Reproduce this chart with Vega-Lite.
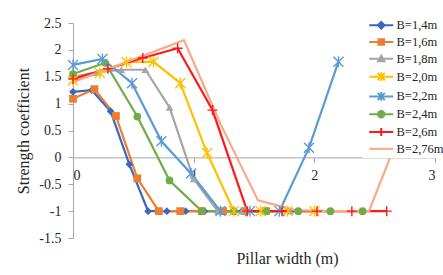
{
  "$schema": "https://vega.github.io/schema/vega-lite/v6.json",
  "autosize": "none",
  "width": 362,
  "height": 215,
  "padding": {"left": 73, "top": 23, "right": 8, "bottom": 37},
  "background": "white",
  "config": {
    "view": {"stroke": null},
    "font": "Liberation Serif",
    "legend": {"labelFont": "Liberation Serif", "labelFontSize": 12.5, "labelColor": "#262626"},
    "axis": {"labelFont": "Liberation Serif", "titleFont": "Liberation Serif", "labelColor": "#262626", "titleColor": "#262626", "domainColor": "#a6a6a6", "tickColor": "#a6a6a6", "grid": false, "labelFontSize": 14, "titleFontSize": 16, "titleFontWeight": "normal"}
  },
  "data": {
    "values": [
      {"B": "B=1,4m", "x": 0, "y": 1.22}, {"B": "B=1,4m", "x": 0.156, "y": 1.25}, {"B": "B=1,4m", "x": 0.311, "y": 0.86}, {"B": "B=1,4m", "x": 0.467, "y": -0.13}, {"B": "B=1,4m", "x": 0.622, "y": -1}, {"B": "B=1,4m", "x": 0.778, "y": -1}, {"B": "B=1,4m", "x": 0.933, "y": -1}, {"B": "B=1,4m", "x": 1.089, "y": -1}, {"B": "B=1,4m", "x": 1.244, "y": -1}, {"B": "B=1,4m", "x": 1.4, "y": -1},
      {"B": "B=1,6m", "x": 0, "y": 1.09}, {"B": "B=1,6m", "x": 0.178, "y": 1.27}, {"B": "B=1,6m", "x": 0.356, "y": 0.77}, {"B": "B=1,6m", "x": 0.533, "y": -0.39}, {"B": "B=1,6m", "x": 0.711, "y": -1}, {"B": "B=1,6m", "x": 0.889, "y": -1}, {"B": "B=1,6m", "x": 1.067, "y": -1}, {"B": "B=1,6m", "x": 1.244, "y": -1}, {"B": "B=1,6m", "x": 1.422, "y": -1}, {"B": "B=1,6m", "x": 1.6, "y": -1},
      {"B": "B=1,8m", "x": 0, "y": 1.5}, {"B": "B=1,8m", "x": 0.2, "y": 1.58}, {"B": "B=1,8m", "x": 0.4, "y": 1.63}, {"B": "B=1,8m", "x": 0.6, "y": 1.63}, {"B": "B=1,8m", "x": 0.8, "y": 0.93}, {"B": "B=1,8m", "x": 1.0, "y": -0.4}, {"B": "B=1,8m", "x": 1.2, "y": -1}, {"B": "B=1,8m", "x": 1.4, "y": -1}, {"B": "B=1,8m", "x": 1.6, "y": -1}, {"B": "B=1,8m", "x": 1.8, "y": -1},
      {"B": "B=2,0m", "x": 0, "y": 1.43}, {"B": "B=2,0m", "x": 0.222, "y": 1.57}, {"B": "B=2,0m", "x": 0.444, "y": 1.77}, {"B": "B=2,0m", "x": 0.667, "y": 1.78}, {"B": "B=2,0m", "x": 0.889, "y": 1.38}, {"B": "B=2,0m", "x": 1.111, "y": 0.08}, {"B": "B=2,0m", "x": 1.333, "y": -1}, {"B": "B=2,0m", "x": 1.556, "y": -1}, {"B": "B=2,0m", "x": 1.778, "y": -1}, {"B": "B=2,0m", "x": 2.0, "y": -1},
      {"B": "B=2,2m", "x": 0, "y": 1.72}, {"B": "B=2,2m", "x": 0.244, "y": 1.83}, {"B": "B=2,2m", "x": 0.489, "y": 1.38}, {"B": "B=2,2m", "x": 0.733, "y": 0.3}, {"B": "B=2,2m", "x": 0.978, "y": -0.3}, {"B": "B=2,2m", "x": 1.222, "y": -1}, {"B": "B=2,2m", "x": 1.467, "y": -1}, {"B": "B=2,2m", "x": 1.711, "y": -1}, {"B": "B=2,2m", "x": 1.956, "y": 0.18}, {"B": "B=2,2m", "x": 2.2, "y": 1.78},
      {"B": "B=2,4m", "x": 0, "y": 1.55}, {"B": "B=2,4m", "x": 0.267, "y": 1.76}, {"B": "B=2,4m", "x": 0.533, "y": 0.76}, {"B": "B=2,4m", "x": 0.8, "y": -0.43}, {"B": "B=2,4m", "x": 1.067, "y": -1}, {"B": "B=2,4m", "x": 1.333, "y": -1}, {"B": "B=2,4m", "x": 1.6, "y": -1}, {"B": "B=2,4m", "x": 1.867, "y": -1}, {"B": "B=2,4m", "x": 2.133, "y": -1}, {"B": "B=2,4m", "x": 2.4, "y": -1},
      {"B": "B=2,6m", "x": 0, "y": 1.46}, {"B": "B=2,6m", "x": 0.289, "y": 1.65}, {"B": "B=2,6m", "x": 0.578, "y": 1.85}, {"B": "B=2,6m", "x": 0.867, "y": 2.03}, {"B": "B=2,6m", "x": 1.156, "y": 0.88}, {"B": "B=2,6m", "x": 1.444, "y": -1}, {"B": "B=2,6m", "x": 1.733, "y": -1}, {"B": "B=2,6m", "x": 2.022, "y": -1}, {"B": "B=2,6m", "x": 2.311, "y": -1}, {"B": "B=2,6m", "x": 2.6, "y": -1},
      {"B": "B=2,76m", "x": 0, "y": 1.4}, {"B": "B=2,76m", "x": 0.307, "y": 1.66}, {"B": "B=2,76m", "x": 0.613, "y": 1.92}, {"B": "B=2,76m", "x": 0.92, "y": 2.18}, {"B": "B=2,76m", "x": 1.227, "y": 0.6}, {"B": "B=2,76m", "x": 1.533, "y": -0.8}, {"B": "B=2,76m", "x": 1.84, "y": -0.98}, {"B": "B=2,76m", "x": 2.147, "y": -1}, {"B": "B=2,76m", "x": 2.453, "y": -1}, {"B": "B=2,76m", "x": 2.76, "y": 0.75}
    ]
  },
  "encoding": {
    "x": {"field": "x", "type": "quantitative", "scale": {"domain": [0, 3], "nice": false, "zero": false},
      "axis": {"values": [0, 1, 2, 3], "offset": -80.6, "tickSize": 5, "labelPadding": 6, "labelExpr": "'' + datum.value", "title": "Pillar width (m)", "titleX": 214, "titleY": 101, "titleBaseline": "middle", "titleAlign": "center"}},
    "y": {"field": "y", "type": "quantitative", "scale": {"domain": [-1.5, 2.5], "nice": false, "zero": false},
      "axis": {"values": [-1.5, -1, -0.5, 0, 0.5, 1, 1.5, 2, 2.5], "tickSize": 5, "labelPadding": 7, "labelExpr": "'' + datum.value", "title": "Strength coefficient", "titleAngle": -90, "titleX": -50, "titleY": 107.5, "titleBaseline": "middle", "titleAlign": "center"}},
    "color": {"field": "B", "type": "nominal", "legend": null,
      "scale": {"domain": ["B=1,4m", "B=1,6m", "B=1,8m", "B=2,0m", "B=2,2m", "B=2,4m", "B=2,6m", "B=2,76m"],
        "range": ["#3a67c0", "#ed7d31", "#a5a5a5", "#ffc000", "#5b9bd5", "#70ad47", "#ff1a1a", "#f8a98a"]}}
  },
  "layer": [
    {"mark": {"type": "line", "strokeWidth": 2.2}},
    {"transform": [{"filter": {"field": "B", "oneOf": ["B=1,4m", "B=1,6m", "B=1,8m", "B=2,4m"]}}],
     "mark": {"type": "point", "filled": true, "opacity": 1, "size": 60},
     "encoding": {
       "shape": {"field": "B", "type": "nominal", "legend": null,
         "scale": {"domain": ["B=1,4m", "B=1,6m", "B=1,8m", "B=2,4m"], "range": ["diamond", "square", "triangle-up", "circle"]}}}},
    {"transform": [{"filter": {"field": "B", "oneOf": ["B=2,0m", "B=2,2m", "B=2,6m"]}}],
     "mark": {"type": "point", "filled": false, "opacity": 1, "size": 100, "strokeWidth": 1.4},
     "encoding": {
       "shape": {"field": "B", "type": "nominal", "legend": null,
         "scale": {"domain": ["B=2,0m", "B=2,2m", "B=2,6m"], "range": ["M-1,-1L1,1M-1,1L1,-1M0,-1.1L0,1.1", "M-1,-1L1,1M-1,1L1,-1M0,-1.1L0,1.1", "M-1,0L1,0M0,-1L0,1"]}}}},
    {"mark": {"type": "point", "opacity": 0, "size": 10},
     "encoding": {
       "color": {"value": "transparent"},
       "fill": {"field": "B", "type": "nominal",
         "scale": {"domain": ["B=1,4m", "B=1,6m", "B=1,8m", "B=2,0m", "B=2,2m", "B=2,4m", "B=2,6m", "B=2,76m"],
           "range": ["#3a67c0", "#ed7d31", "#a5a5a5", "#ffc000", "#5b9bd5", "#70ad47", "#ff1a1a", "#f8a98a"]},
         "legend": {"title": null, "orient": "none", "legendX": 290, "legendY": -6, "symbolSize": 64, "symbolOffset": 10, "labelOffset": 9, "rowPadding": 1.8, "padding": 2, "fillColor": "white", "symbolOpacity": 1, "symbolStrokeWidth": 2}},
       "stroke": {"field": "B", "type": "nominal",
         "scale": {"domain": ["B=1,4m", "B=1,6m", "B=1,8m", "B=2,0m", "B=2,2m", "B=2,4m", "B=2,6m", "B=2,76m"],
           "range": ["#3a67c0", "#ed7d31", "#a5a5a5", "#ffc000", "#5b9bd5", "#70ad47", "#ff1a1a", "#f8a98a"]},
         "legend": {"title": null, "orient": "none", "legendX": 290, "legendY": -6, "symbolSize": 64, "symbolOffset": 10, "labelOffset": 9, "rowPadding": 1.8, "padding": 2, "fillColor": "white", "symbolOpacity": 1, "symbolStrokeWidth": 2}},
       "shape": {"field": "B", "type": "nominal",
         "scale": {"domain": ["B=1,4m", "B=1,6m", "B=1,8m", "B=2,0m", "B=2,2m", "B=2,4m", "B=2,6m", "B=2,76m"],
           "range": [
             "M-3,0L3,0M0,-0.85L0.85,0L0,0.85L-0.85,0Z",
             "M-3,0L3,0M-0.7,-0.7L0.7,-0.7L0.7,0.7L-0.7,0.7Z",
             "M-3,0L3,0M0,-0.8L0.8,0.6L-0.8,0.6Z",
             "M-3,0L3,0M-0.9,-0.9L0.9,0.9M-0.9,0.9L0.9,-0.9M0,-1.1L0,1.1",
             "M-3,0L3,0M-0.9,-0.9L0.9,0.9M-0.9,0.9L0.9,-0.9M0,-1.1L0,1.1",
             "M-3,0L3,0M-0.8,0A0.8,0.8,0,1,0,0.8,0A0.8,0.8,0,1,0,-0.8,0Z",
             "M-3,0L3,0M0,-1L0,1",
             "M-3,0L3,0"
           ]},
         "legend": {"title": null, "orient": "none", "legendX": 290, "legendY": -6, "symbolSize": 64, "symbolOffset": 10, "labelOffset": 9, "rowPadding": 1.8, "padding": 2, "fillColor": "white", "symbolOpacity": 1, "symbolStrokeWidth": 2}}}}
  ],
  "resolve": {"scale": {"shape": "independent", "fill": "independent", "stroke": "independent"}}
}
